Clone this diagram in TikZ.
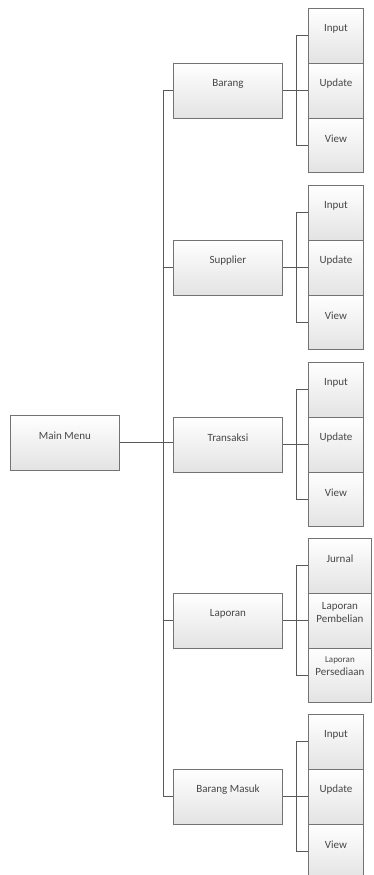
\documentclass[tikz,border=0pt]{standalone}
\usepackage{fontspec}
\setmainfont{Carlito}
\begin{document}
\begin{tikzpicture}[x=1pt,y=-1pt,
  box/.style={draw=black!55, line width=0.9pt, top color=white, middle color=white, bottom color=black!11,
    minimum height=54.8pt, inner sep=0pt, anchor=north west},
  mainbox/.style={box, minimum width=109pt},
  subbox/.style={box, minimum width=55pt},
  widebox/.style={box, minimum width=63pt},
  txt/.style={font=\fontsize{11}{13}\selectfont, text=black!72, align=center, inner sep=0pt},
  ln/.style={draw=black!65, line width=1pt}]
\useasboundingbox (0,0) rectangle (373,875);

% main menu
\node[mainbox] (mm) at (10,415) {};
\node[txt] (tmm) at ([yshift=7pt]mm.center) {Main Menu};

% groups with Input / Update / View
\foreach \i/\t/\lab in {1/8/Barang, 2/185/Supplier, 3/362/Transaksi, 5/714/Barang Masuk} {
  \node[subbox] (a\i) at (308,\t) {};
  \node[subbox] (b\i) at (308,\t+54.8) {};
  \node[subbox] (c\i) at (308,\t+109.6) {};
  \node[mainbox] (m\i) at (173,\t+54.8) {};
  \node[txt] (ta\i) at ([yshift=7pt]a\i.center) {Input};
  \node[txt] (tb\i) at ([yshift=7pt]b\i.center) {Update};
  \node[txt] (tc\i) at ([yshift=7pt]c\i.center) {View};
  \node[txt] (tm\i) at ([yshift=7pt]m\i.center) {\lab};
  \draw[ln] (m\i.east) -- (b\i.west);
  \draw[ln] (a\i.west) -- ++(-12,0) |- (c\i.west);
}

% Laporan group
\node[widebox] (a4) at (308,538) {};
\node[widebox] (b4) at (308,592.8) {};
\node[widebox] (c4) at (308,647.6) {};
\node[mainbox] (m4) at (173,592.8) {};
\node[txt] (ta4) at ([yshift=7.5pt]a4.center) {Jurnal};
\node[txt] (tb4) at ([yshift=8.5pt]b4.center) {Laporan\\Pembelian};
\node[txt] (tc4) at ([yshift=9pt]c4.center) {{\fontsize{9}{11}\selectfont Laporan}\\Persediaan};
\node[txt] (tm4) at ([yshift=7pt]m4.center) {Laporan};
\draw[ln] (m4.east) -- (b4.west);
\draw[ln] (a4.west) -- ++(-12,0) |- (c4.west);

% trunk
\draw[ln] (m1.west) -- ++(-10,0) |- (m5.west);
\draw[ln] (m2.west) -- ++(-10,0);
\draw[ln] (m4.west) -- ++(-10,0);
\draw[ln] (mm.east) -- (mm.east -| m3.west);
\end{tikzpicture}
\end{document}
